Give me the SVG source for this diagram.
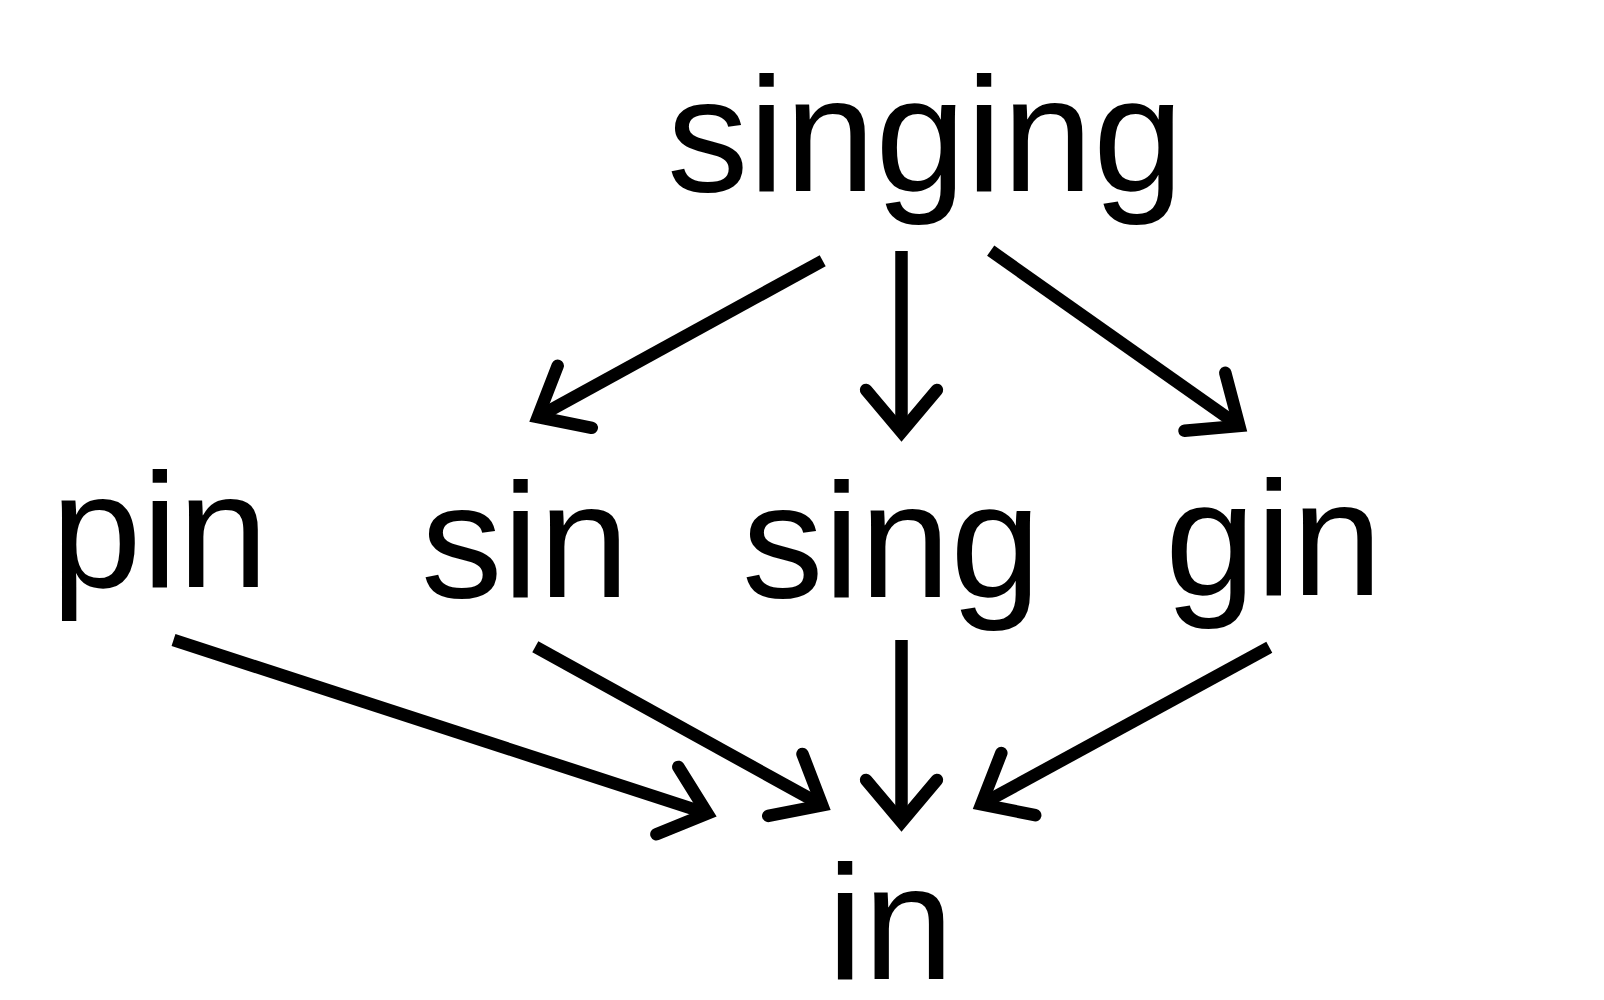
<svg xmlns="http://www.w3.org/2000/svg" width="1604" height="1000" viewBox="0 0 1604 1000">
<style>
  .lbl { font-family: "Liberation Sans", Arial, sans-serif; font-size: 163px; fill: #000; }
  .edge { stroke: #000; stroke-width: 12.5; fill: none; stroke-linecap: butt; marker-end: url(#ah); }
</style>
<defs>
  <marker id="ah" markerUnits="userSpaceOnUse" orient="auto" refX="0" refY="0" markerWidth="1" markerHeight="1" style="overflow:visible">
    <path d="M -42.1,-35.4 L 0,0 L -42.1,35.4" fill="none" stroke="#000" stroke-width="12.5" stroke-linecap="round" stroke-linejoin="miter" stroke-miterlimit="10"/>
  </marker>
</defs>
<rect width="1604" height="1000" fill="#fff"/>
<g id="node-singing"><text class="lbl" x="667" y="191">singing</text></g>
<g id="node-pin"><text class="lbl" x="51" y="587">pin</text></g>
<g id="node-sin"><text class="lbl" x="421" y="597">sin</text></g>
<g id="node-sing"><text class="lbl" x="742" y="597">sing</text></g>
<g id="node-gin"><text class="lbl" x="1165" y="595">gin</text></g>
<g id="node-in"><text class="lbl" x="827" y="979">in</text></g>
<g id="connectors">
  <line class="edge" x1="822.7" y1="260.7" x2="537.8" y2="417.0"/>
  <line class="edge" x1="901.5" y1="251" x2="901.5" y2="432"/>
  <line class="edge" x1="990.7" y1="250.7" x2="1239.3" y2="426.0"/>
  <line class="edge" x1="173.5" y1="640" x2="707.4" y2="813.6"/>
  <line class="edge" x1="535.3" y1="646.7" x2="822.2" y2="805.3"/>
  <line class="edge" x1="901.5" y1="640" x2="901.5" y2="822"/>
  <line class="edge" x1="1269.3" y1="647.3" x2="981.3" y2="804.3"/>
</g>
</svg>
